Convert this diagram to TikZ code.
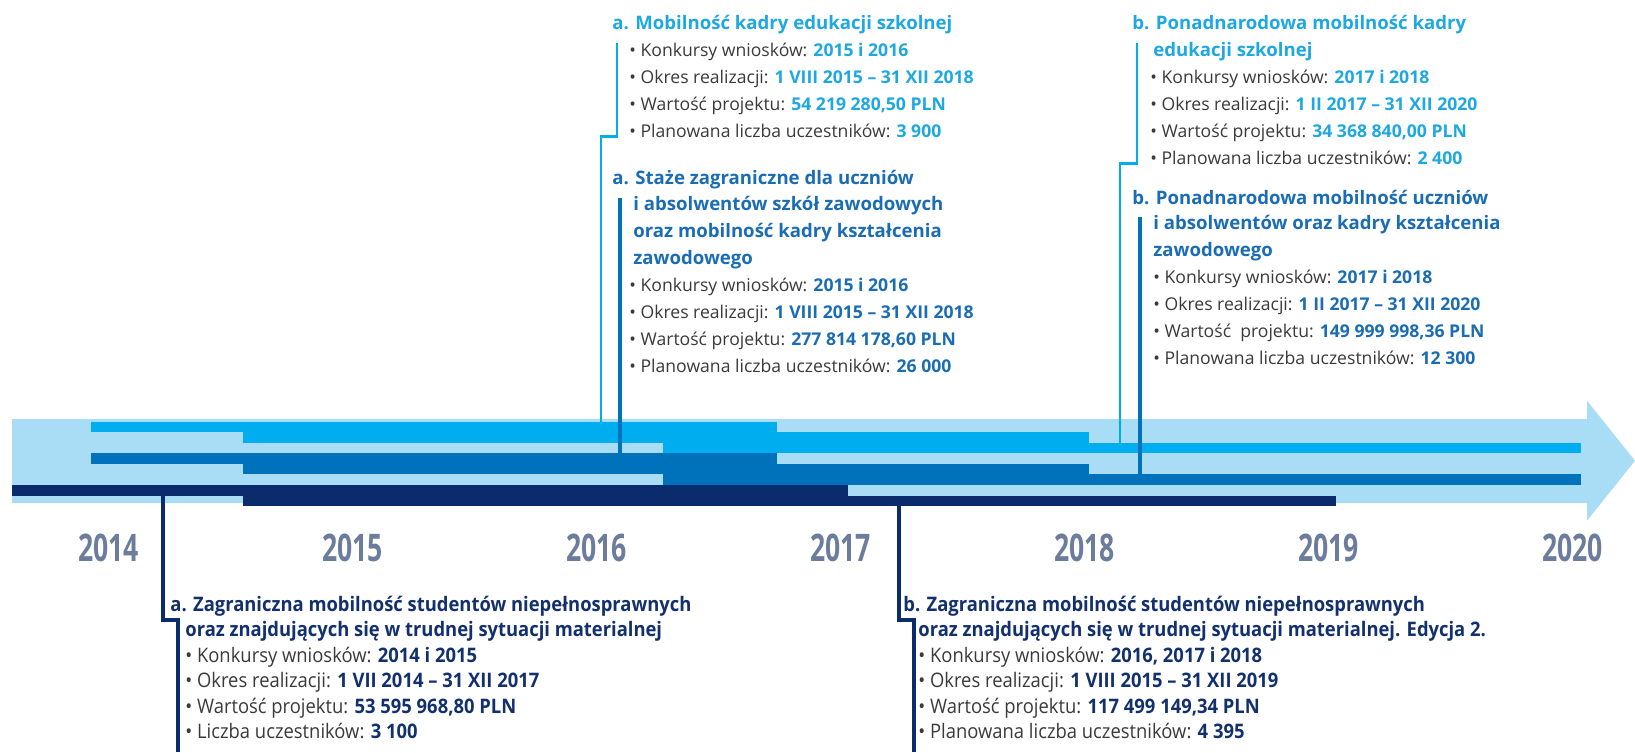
\documentclass[tikz,border=0pt]{standalone}
\usepackage{fontspec}
\setmainfont{Open Sans}
\definecolor{lightb}{HTML}{A9DCF5}
\definecolor{cyanb}{HTML}{00AEEF}
\definecolor{medb}{HTML}{0071BB}
\definecolor{navyb}{HTML}{0B2C6C}
\definecolor{yearc}{HTML}{6B7C9C}
\definecolor{cyant}{HTML}{1EA8E2}
\definecolor{medt}{HTML}{1A6DB4}
\definecolor{navyt}{HTML}{13306E}
\definecolor{bodyt}{HTML}{3A3A3A}
\newcommand\hv[2]{{\color{#1}\bfseries #2}}
\newcommand\tline[5]{\node[#1] (#2) at (#3,#4) {#5};}
\newcommand\sq[1]{\scalebox{0.92}[1]{#1}}
\begin{document}
\begin{tikzpicture}[x=0.5pt,y=-0.5pt,
  txt/.style={anchor=base west,inner sep=0pt,font=\fontsize{8.8}{10}\selectfont,text=bodyt},
  ttlc/.style={txt,text=cyant,font=\fontsize{9.3}{10}\selectfont\bfseries},
  ttlm/.style={txt,text=medt,font=\fontsize{9.3}{10}\selectfont\bfseries},
  btxt/.style={txt,font=\fontsize{10}{11}\selectfont},
  ttln/.style={txt,text=navyt,font=\fontsize{10}{11}\selectfont\bfseries},
  yr/.style={anchor=center,inner sep=0pt,text=yearc,font=\fontsize{19}{20}\selectfont\bfseries},
  cline/.style={draw=cyanb,line width=1.3pt},
  mline/.style={draw=medb,line width=1.6pt},
  nline/.style={draw=navyb,line width=1.6pt}]
\useasboundingbox (0,0) rectangle (1635,752);
\fill[white] (0,0) rectangle (1635,752);
% arrow band
\fill[lightb] (12,419) -- (1587,419) -- (1587,400.7) -- (1635,460.7) -- (1587,520.7) -- (1587,503) -- (12,503) -- cycle;
% bars
\fill[cyanb] (91,421.7) rectangle (777,432.3);
\fill[cyanb] (243,432.3) rectangle (1089,442.7);
\fill[cyanb] (663,442.7) rectangle (1581,453.3);
\fill[medb] (91,453.3) rectangle (777,464);
\fill[medb] (243,464) rectangle (1089,474.3);
\fill[medb] (663,474.3) rectangle (1581,485);
\fill[navyb] (12,485) rectangle (848,495.7);
\fill[navyb] (243,495.7) rectangle (1336,506);
% years
\foreach \y [count=\i from 0] in {2014,2015,2016,2017,2018,2019,2020}
  \node[yr] (y\y) at (108.5+244*\i,548) {\scalebox{0.7}[1]{\y}};
% connector anchor points
\coordinate (ca0) at (601,421.7); \coordinate (ca1) at (601,136.5); \coordinate (ca2) at (617,136.5); \coordinate (ca3) at (617,43);
\coordinate (ma0) at (620,453.3); \coordinate (ma1) at (620,198);
\coordinate (cb0) at (1120,442.7); \coordinate (cb1) at (1120,163.5); \coordinate (cb2) at (1137,163.5); \coordinate (cb3) at (1137,43);
\coordinate (mb0) at (1140,474.3); \coordinate (mb1) at (1140,217);
\coordinate (na0) at (163,495.7); \coordinate (na1) at (163,620); \coordinate (na2) at (178,620); \coordinate (na3) at (178,752);
\coordinate (nb0) at (899,506); \coordinate (nb1) at (899,620); \coordinate (nb2) at (914,620); \coordinate (nb3) at (914,752);
\draw[cline] (ca0) -- (ca1) -- (ca2) -- (ca3);
\draw[mline] (ma0) -- (ma1);
\draw[cline] (cb0) -- (cb1) -- (cb2) -- (cb3);
\draw[mline] (mb0) -- (mb1);
\draw[nline] (na0) -- (na1) -- (na2) -- (na3);
\draw[nline] (nb0) -- (nb1) -- (nb2) -- (nb3);
% block A cyan
\tline{ttlc}{a1}{612}{29}{a. Mobilność kadry edukacji szkolnej}
\tline{txt}{a2}{629}{56}{• Konkursy wniosków: \hv{cyant}{2015 i 2016}}
\tline{txt}{a3}{629}{83}{• Okres realizacji: \hv{cyant}{1 VIII 2015 – 31 XII 2018}}
\tline{txt}{a4}{629}{110}{• Wartość projektu: \hv{cyant}{54 219 280,50 PLN}}
\tline{txt}{a5}{629}{137}{• Planowana liczba uczestników: \hv{cyant}{3 900}}
% block A medium
\tline{ttlm}{b1}{612}{184}{a. Staże zagraniczne dla uczniów}
\tline{ttlm}{b2}{633}{210.5}{i absolwentów szkół zawodowych}
\tline{ttlm}{b3}{633}{237}{oraz mobilność kadry kształcenia}
\tline{ttlm}{b4}{633}{264}{zawodowego}
\tline{txt}{b5}{629}{291}{• Konkursy wniosków: \hv{medt}{2015 i 2016}}
\tline{txt}{b6}{629}{318}{• Okres realizacji: \hv{medt}{1 VIII 2015 – 31 XII 2018}}
\tline{txt}{b7}{629}{345}{• Wartość projektu: \hv{medt}{277 814 178,60 PLN}}
\tline{txt}{b8}{629}{372}{• Planowana liczba uczestników: \hv{medt}{26 000}}
% block B cyan
\tline{ttlc}{c1}{1132}{29}{b. Ponadnarodowa mobilność kadry}
\tline{ttlc}{c2}{1153}{56}{edukacji szkolnej}
\tline{txt}{c3}{1150}{83}{• Konkursy wniosków: \hv{cyant}{2017 i 2018}}
\tline{txt}{c4}{1150}{110}{• Okres realizacji: \hv{cyant}{1 II 2017 – 31 XII 2020}}
\tline{txt}{c5}{1150}{137}{• Wartość projektu: \hv{cyant}{34 368 840,00 PLN}}
\tline{txt}{c6}{1150}{164}{• Planowana liczba uczestników: \hv{cyant}{2 400}}
% block B medium
\tline{ttlm}{d1}{1132}{204}{b. Ponadnarodowa mobilność uczniów}
\tline{ttlm}{d2}{1153}{229.5}{i absolwentów oraz kadry kształcenia}
\tline{ttlm}{d3}{1153}{256}{zawodowego}
\tline{txt}{d4}{1153}{283}{• Konkursy wniosków: \hv{medt}{2017 i 2018}}
\tline{txt}{d5}{1153}{310}{• Okres realizacji: \hv{medt}{1 II 2017 – 31 XII 2020}}
\tline{txt}{d6}{1153}{337}{• Wartość\ \ projektu: \hv{medt}{149 999 998,36 PLN}}
\tline{txt}{d7}{1153}{364}{• Planowana liczba uczestników: \hv{medt}{12 300}}
% block C navy
\tline{ttln}{e1}{170}{611}{\sq{a. Zagraniczna mobilność studentów niepełnosprawnych}}
\tline{ttln}{e2}{185}{636.5}{\sq{oraz znajdujących się w trudnej sytuacji materialnej}}
\tline{btxt}{e3}{185}{662}{\sq{• Konkursy wniosków: \hv{navyt}{2014 i 2015}}}
\tline{btxt}{e4}{185}{687.5}{\sq{• Okres realizacji: \hv{navyt}{1 VII 2014 – 31 XII 2017}}}
\tline{btxt}{e5}{185}{713}{\sq{• Wartość projektu: \hv{navyt}{53 595 968,80 PLN}}}
\tline{btxt}{e6}{185}{738.5}{\sq{• Liczba uczestników: \hv{navyt}{3 100}}}
% block D navy
\tline{ttln}{f1}{903}{611}{\sq{b. Zagraniczna mobilność studentów niepełnosprawnych}}
\tline{ttln}{f2}{918}{636.5}{\sq{oraz znajdujących się w trudnej sytuacji materialnej. Edycja 2.}}
\tline{btxt}{f3}{918}{662}{\sq{• Konkursy wniosków: \hv{navyt}{2016, 2017 i 2018}}}
\tline{btxt}{f4}{918}{687.5}{\sq{• Okres realizacji: \hv{navyt}{1 VIII 2015 – 31 XII 2019}}}
\tline{btxt}{f5}{918}{713}{\sq{• Wartość projektu: \hv{navyt}{117 499 149,34 PLN}}}
\tline{btxt}{f6}{918}{738.5}{\sq{• Planowana liczba uczestników: \hv{navyt}{4 395}}}
\end{tikzpicture}
\end{document}
